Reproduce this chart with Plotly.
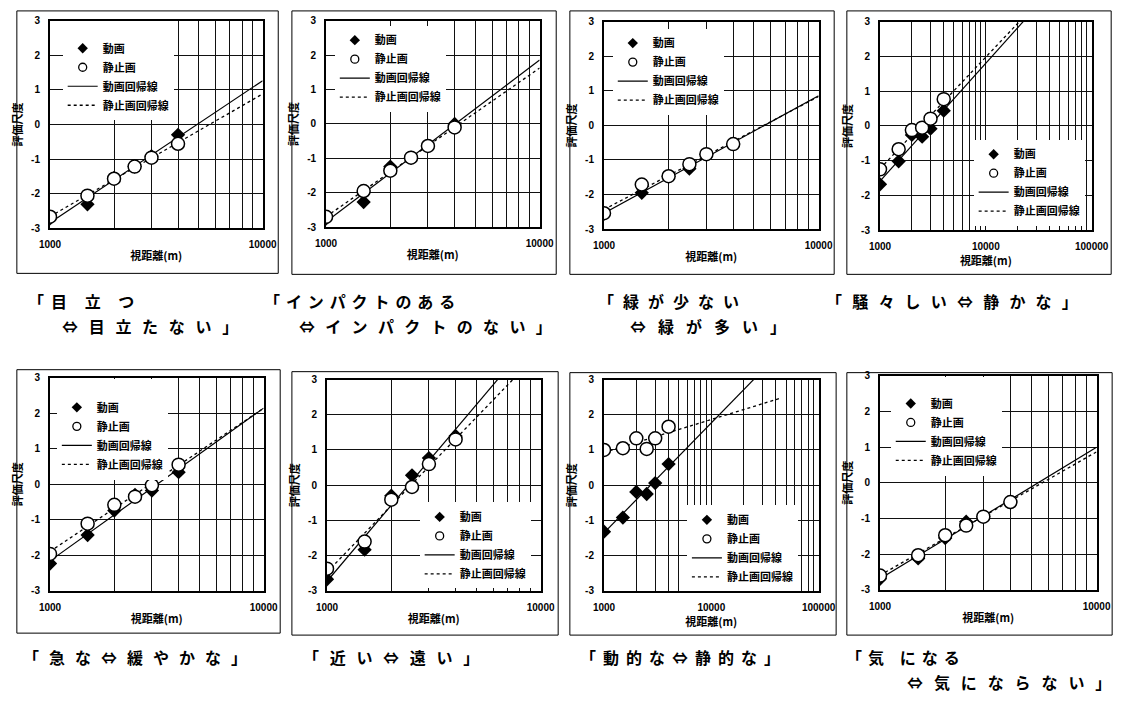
import numpy as np
import plotly.graph_objects as go

# 視距離 (m) of the six viewpoints
distance = [1000, 1500, 2000, 2500, 3000, 4000]

# 評価尺度: 動画 (moving picture) and 静止画 (still picture)
dyn_scores = [
    [-2.72, -2.31, -1.55, -1.22, -0.92, -0.30],
    [-2.75, -2.27, -1.24, -0.98, -0.64, 0.00],
    [-2.55, -1.95, -1.47, -1.25, -0.83, -0.54],
    [-1.68, -1.02, -0.26, -0.31, -0.08, 0.44],
    [-2.23, -1.43, -0.74, -0.30, -0.18, 0.34],
    [-2.67, -1.83, -0.30, 0.28, 0.77, 1.40],
    [-1.32, -0.92, -0.19, -0.25, 0.06, 0.60],
    [-2.69, -2.12, -1.55, -1.09, -0.95, -0.54],
]
sta_scores = [
    [-2.67, -2.06, -1.57, -1.22, -0.96, -0.56],
    [-2.70, -1.95, -1.36, -0.98, -0.64, -0.10],
    [-2.54, -1.71, -1.47, -1.12, -0.83, -0.54],
    [-1.25, -0.67, -0.12, -0.05, 0.21, 0.77],
    [-1.96, -1.11, -0.58, -0.35, -0.03, 0.55],
    [-2.37, -1.60, -0.41, -0.05, 0.60, 1.30],
    [1.00, 1.05, 1.33, 1.03, 1.33, 1.66],
    [-2.60, -2.03, -1.47, -1.20, -0.95, -0.54],
]
x_max = [10000, 10000, 10000, 100000, 10000, 10000, 100000, 10000]
line_end = [10000, 10000, 10000, 100000, 10000, 10000, 45000, 10000]
y_ticks = [-3, -2, -1, 0, 1, 2, 3]
legend_names = ["動画", "静止画", "動画回帰線", "静止画回帰線"]

captions = [
    ["「目 立 つ", "⇔目立たない」"],
    ["「インパクトのある", "⇔インパクトのない」"],
    ["「緑が少ない", "⇔緑が多い」"],
    ["「騒々しい⇔静かな」"],
    ["「急な⇔緩やかな」"],
    ["「近い⇔遠い」"],
    ["「動的な⇔静的な」"],
    ["「気 になる", "⇔気にならない」"],
]

# layout in pixels: plot area [x0, x1, y0, y1], outer frame, legend and captions
W, H = 1135, 705
plot_px = [
    (40, 258, 15, 226), (323, 542, 15, 225), (608, 828, 16, 227), (891, 1108, 16, 228),
    (40, 259, 378, 595), (324, 543, 380, 595), (608, 828, 380, 595), (891, 1113, 376, 594),
]
frame_px = [
    (6, 5, 274, 272), (288, 5, 559, 273), (573, 5, 844, 273), (857, 5, 1128, 273),
    (6, 370, 276, 638), (288, 372, 561, 640), (573, 373, 846, 640), (857, 373, 1129, 640),
]
# legend: left x, top y, height of the blank title row that pushes items down (0 = none)
legend_px = [(53, 15, 10), (332, 20, 0), (617, 23, 0), (987, 136, 0),
             (47, 379, 11), (419, 505, 0), (693, 508, 0), (902, 377, 9.5)]
# caption lines: centre x, centre y, letter spacing
caption_px = [
    [(75, 300, 7), (148, 326, 10.7)],
    [(360, 300, 5.9), (430, 326, 10.3)],
    [(679, 300, 9), (721, 326, 12)],
    [(970, 300, 10.2)],
    [(132, 662, 10)],
    [(395, 662, 10.7)],
    [(690, 662, 7)],
    [(918, 662, 6), (1029, 688, 10.9)],
]

JP = "Noto Sans CJK JP"
NUM = "Liberation Sans"

fig = go.Figure()
shapes = []
annotations = []

for i in range(8):
    n = i + 1
    xa = "x" if n == 1 else f"x{n}"
    ya = "y" if n == 1 else f"y{n}"
    lg = "legend" if n == 1 else f"legend{n}"
    x0, x1, y0, y1 = plot_px[i]

    # regression lines fitted on log10(distance)
    lx = np.log10(distance)
    bd, ad = np.polyfit(lx, dyn_scores[i], 1)
    bs, as_ = np.polyfit(lx, sta_scores[i], 1)
    xs = np.array([distance[0], line_end[i]])
    fig.add_trace(go.Scatter(x=xs, y=ad + bd * np.log10(xs), mode="lines",
                             line=dict(color="black", width=1.2),
                             xaxis=xa, yaxis=ya, showlegend=False, hoverinfo="skip"))
    fig.add_trace(go.Scatter(x=xs, y=as_ + bs * np.log10(xs), mode="lines",
                             line=dict(color="black", width=1.3, dash="dot"),
                             xaxis=xa, yaxis=ya, showlegend=False, hoverinfo="skip"))
    fig.add_trace(go.Scatter(x=distance, y=dyn_scores[i], mode="markers",
                             marker=dict(symbol="diamond", size=11, color="black"),
                             xaxis=xa, yaxis=ya, showlegend=False))
    fig.add_trace(go.Scatter(x=distance, y=sta_scores[i], mode="markers",
                             marker=dict(symbol="circle", size=13, color="white",
                                         line=dict(color="black", width=1.5)),
                             xaxis=xa, yaxis=ya, showlegend=False))

    # legend-only entries (smaller symbols like the original)
    fig.add_trace(go.Scatter(x=[None], y=[None], mode="markers", name=legend_names[0],
                             marker=dict(symbol="diamond", size=8, color="black"),
                             xaxis=xa, yaxis=ya, legend=lg))
    fig.add_trace(go.Scatter(x=[None], y=[None], mode="markers", name=legend_names[1],
                             marker=dict(symbol="circle", size=8, color="white",
                                         line=dict(color="black", width=1.3)),
                             xaxis=xa, yaxis=ya, legend=lg))
    fig.add_trace(go.Scatter(x=[None], y=[None], mode="lines", name=legend_names[2],
                             line=dict(color="black", width=1.2),
                             xaxis=xa, yaxis=ya, legend=lg))
    fig.add_trace(go.Scatter(x=[None], y=[None], mode="lines", name=legend_names[3],
                             line=dict(color="black", width=1.3, dash="dot"),
                             xaxis=xa, yaxis=ya, legend=lg))

    decades = int(round(np.log10(x_max[i]))) - 3
    tickvals, ticktext = [], []
    for d in range(decades):
        base = 1000 * 10 ** d
        for k in range(1, 10):
            tickvals.append(base * k)
            ticktext.append(str(base) if k == 1 else "")
    tickvals.append(x_max[i])
    ticktext.append(str(x_max[i]))

    axis_common = dict(showline=True, mirror=True, linecolor="black", linewidth=2,
                       showgrid=True, gridcolor="#111", gridwidth=1, zeroline=False,
                       ticks="", tickfont=dict(family=NUM, size=10, color="black", weight="bold"))
    lx0, ly0, tsize = legend_px[i]
    legend_title = dict(text="&nbsp;", font=dict(size=tsize)) if tsize else dict(text="")
    fig.update_layout(**{
        ("xaxis" if n == 1 else f"xaxis{n}"): dict(
            type="log", range=[3, np.log10(x_max[i])], domain=[x0 / W, x1 / W],
            anchor=ya, tickvals=tickvals, ticktext=ticktext, ticklabelstandoff=6,
            title=dict(text="視距離(m)", font=dict(family=JP, size=11, color="black", weight="bold"),
                       standoff=3),
            **axis_common),
        ("yaxis" if n == 1 else f"yaxis{n}"): dict(
            range=[-3, 3], domain=[1 - y1 / H, 1 - y0 / H], anchor=xa,
            tickvals=y_ticks, ticktext=[str(v) for v in y_ticks], ticklabelstandoff=6,
            title=dict(text="評価尺度", font=dict(family=JP, size=11, color="black", weight="bold"),
                       standoff=6),
            **axis_common),
        lg: dict(x=lx0 / W, y=1 - ly0 / H, xanchor="left", yanchor="top",
                 bgcolor="white", borderwidth=0, title=legend_title,
                 font=dict(family=JP, size=11, color="black", weight="bold")),
    })

    fx0, fy0, fx1, fy1 = frame_px[i]
    shapes.append(dict(type="rect", xref="paper", yref="paper",
                       x0=fx0 / W, x1=fx1 / W, y0=1 - fy1 / H, y1=1 - fy0 / H,
                       line=dict(color="black", width=1)))

    for text, (cx, cy, sp) in zip(captions[i], caption_px[i]):
        annotations.append(dict(
            text=f'<span style="letter-spacing:{sp}px">{text}</span>',
            xref="paper", yref="paper", x=cx / W, y=1 - cy / H,
            xanchor="center", yanchor="middle", showarrow=False,
            font=dict(family=JP, size=16, color="black", weight="bold")))

fig.update_layout(width=W, height=H, margin=dict(l=0, r=0, t=0, b=0),
                  paper_bgcolor="white", plot_bgcolor="white",
                  shapes=shapes, annotations=annotations)

fig.write_html("out.html", config={"displayModeBar": False},
               post_script="document.body.style.margin='0';")
